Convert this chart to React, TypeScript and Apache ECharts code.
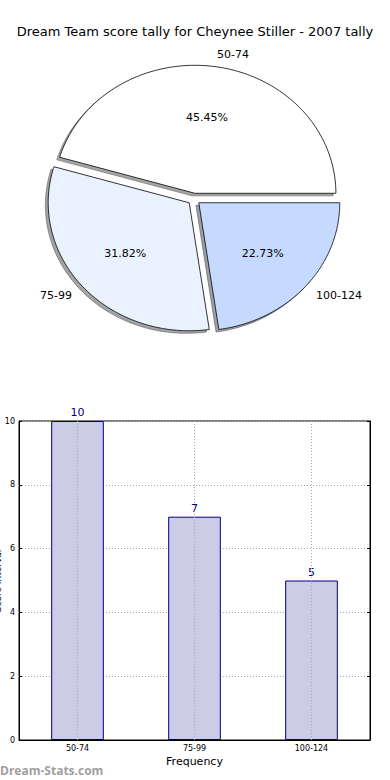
import React, { useEffect, useRef } from "react";
import * as echarts from "echarts";

const title = "Dream Team score tally for Cheynee Stiller - 2007 tally";
const categories = ["50-74", "75-99", "100-124"];
const counts = [10, 7, 5];
const pieColors = ["#ffffff", "#eaf2ff", "#c6daff"];
const yMin = 0;
const yMax = 10;
const yInterval = 2;
const xName = "Frequency";
const yName = "Score Interval";
const watermark = "Dream-Stats.com";

const FONT = "DejaVu Sans";

function shadowColor(hex: string) {
  const r = parseInt(hex.slice(1, 3), 16);
  const g = parseInt(hex.slice(3, 5), 16);
  const b = parseInt(hex.slice(5, 7), 16);
  return `rgb(${Math.round(r * 0.3)},${Math.round(g * 0.3)},${Math.round(b * 0.3)})`;
}

export default function App() {
  const ref = useRef<HTMLDivElement>(null);
  useEffect(() => {
    document.body.style.margin = "0";
    const chart = echarts.init(ref.current!, null, { renderer: "svg" });
    const cx = 194;
    const cy = 199;
    const rx = 141;
    const ry = 128;
    const explode = 0.045;
    const total = counts.reduce((a, b) => a + b, 0);

    const renderItem = (params: any, api: any) => {
      const i = params.dataIndex;
      const v = api.value(0);
      let before = 0;
      for (let k = 0; k < i; k++) before += counts[k];
      const a0 = (before / total) * Math.PI * 2;
      const a1 = ((before + v) / total) * Math.PI * 2;
      const mid = (a0 + a1) / 2;
      const ex = cx + explode * rx * Math.cos(mid);
      const ey = cy - explode * ry * Math.sin(mid);
      const pts: number[][] = [[ex, ey]];
      const N = 120;
      for (let s = 0; s <= N; s++) {
        const t = a0 + ((a1 - a0) * s) / N;
        pts.push([ex + rx * Math.cos(t), ey - ry * Math.sin(t)]);
      }
      const sdx = -0.02 * rx;
      const sdy = 0.02 * ry;
      const spts = pts.map((p) => [p[0] + sdx, p[1] + sdy]);
      const lx = ex + 1.1 * rx * Math.cos(mid);
      const ly = ey - 1.1 * ry * Math.sin(mid);
      const px = ex + 0.6 * rx * Math.cos(mid);
      const py = ey - 0.6 * ry * Math.sin(mid);
      const sc = shadowColor(pieColors[i]);
      return {
        type: "group",
        children: [
          {
            type: "polygon",
            z2: 0,
            shape: { points: spts },
            style: { fill: sc, stroke: sc, lineWidth: 1, opacity: 0.5 },
          },
          {
            type: "polygon",
            z2: 10,
            shape: { points: pts },
            style: { fill: pieColors[i], stroke: "#000", lineWidth: 0.8 },
          },
          {
            type: "text",
            z2: 20,
            x: lx,
            y: ly + 1,
            style: {
              text: categories[i],
              fill: "#000",
              font: `11px "${FONT}"`,
              align: Math.cos(mid) > 0 ? "left" : "right",
              verticalAlign: "middle",
            },
          },
          {
            type: "text",
            z2: 20,
            x: px,
            y: py,
            style: {
              text: ((v / total) * 100).toFixed(2) + "%",
              fill: "#000",
              font: `11px "${FONT}"`,
              align: "center",
              verticalAlign: "middle",
            },
          },
        ],
      };
    };

    const gridLine = { color: "#a8a8a8", type: [1, 2], width: 1 };

    chart.setOption({
      animation: false,
      backgroundColor: "#fff",
      title: {
        text: title,
        left: "center",
        top: 20,
        textStyle: { fontFamily: FONT, fontSize: 13, fontWeight: "normal", color: "#000" },
      },
      grid: {
        left: 19,
        right: 20,
        top: 421,
        bottom: 40,
        show: true,
        borderColor: "#000",
        borderWidth: 1,
        backgroundColor: "transparent",
      },
      xAxis: {
        type: "category",
        data: categories,
        name: xName,
        nameLocation: "middle",
        nameGap: 16,
        nameTextStyle: { fontFamily: FONT, fontSize: 11, color: "#000" },
        axisLine: { show: true, lineStyle: { color: "#000", width: 1 } },
        axisTick: { show: false },
        axisLabel: { fontFamily: FONT, fontSize: 8, color: "#000", margin: 4 },
        splitLine: { show: false },
      },
      yAxis: [
        {
          type: "value",
          min: yMin,
          max: yMax,
          interval: yInterval,
          axisLine: { show: true, lineStyle: { color: "#000", width: 1 } },
          axisTick: { show: true, inside: true, length: 3, lineStyle: { color: "#000" } },
          axisLabel: { fontFamily: FONT, fontSize: 8, color: "#000", margin: 4 },
          splitLine: { show: true, lineStyle: gridLine },
        },
        {
          type: "value",
          position: "right",
          min: yMin,
          max: yMax,
          interval: yInterval,
          axisLine: { show: true, lineStyle: { color: "#000", width: 1 } },
          axisTick: { show: true, inside: true, length: 3, lineStyle: { color: "#000" } },
          axisLabel: { show: false },
          splitLine: { show: false },
        },
      ],
      graphic: [
        {
          type: "text",
          x: -2,
          y: 581,
          rotation: Math.PI / 2,
          style: {
            text: yName,
            fill: "#000",
            font: `9px "${FONT}"`,
            align: "center",
            verticalAlign: "middle",
          },
        },
        {
          type: "text",
          x: 0,
          y: 770,
          style: {
            text: watermark,
            fill: "#a0a0a0",
            font: `bold 12px "Open Sans"`,
            align: "left",
            verticalAlign: "middle",
          },
        },
      ],
      series: [
        {
          type: "custom",
          coordinateSystem: "none",
          data: counts.map((c) => [c]),
          renderItem,
          silent: true,
        },
        {
          type: "bar",
          data: counts,
          barWidth: "45%",
          itemStyle: { color: "#ccccE6", borderColor: "#000080", borderWidth: 1 },
          label: {
            show: true,
            position: "top",
            distance: 3,
            color: "#000080",
            fontFamily: FONT,
            fontSize: 11,
          },
          markLine: {
            silent: true,
            symbol: "none",
            label: { show: false },
            lineStyle: gridLine,
            data: categories.map((c) => ({ xAxis: c })),
          },
        },
      ],
    });
    return () => chart.dispose();
  }, []);
  return <div ref={ref} style={{ width: 390, height: 780 }} />;
}
